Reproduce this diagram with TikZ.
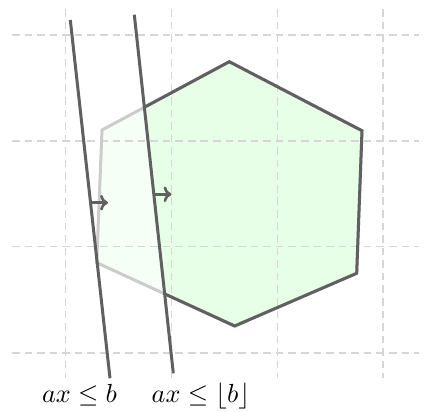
\documentclass[tikz,border=0pt]{standalone}
\usetikzlibrary{arrows.meta}
\definecolor{edgedark}{HTML}{606060}
\definecolor{edgelight}{HTML}{CCCCCC}
\definecolor{gridc}{HTML}{D6D6D6}
\definecolor{fillgreen}{HTML}{E6FFE6}
\definecolor{filllight}{HTML}{F5FFF5}
\tikzset{
  gridline/.style={draw=gridc, line width=0.75pt, dash pattern=on 2.9pt off 1.9pt},
  cutline/.style={draw=edgedark, line width=1.15pt},
  dirarrow/.style={draw=edgedark, line width=1.0pt, -{To[length=3pt,width=6pt]}},
  lbl/.style={inner sep=0pt, anchor=base}
}
\begin{document}
\begin{tikzpicture}[x=0.382pt, y=-0.382pt]
\useasboundingbox (0,0) rectangle (427,412);
% hexagon vertices
\coordinate (h1) at (229.3,61.7);
\coordinate (h2) at (362,130.7);
\coordinate (h3) at (356.7,273.3);
\coordinate (h4) at (234.7,326);
\coordinate (h5) at (96.7,262.7);
\coordinate (h6) at (102,130);
% fills
\fill[filllight] (h1) -- (h2) -- (h3) -- (h4) -- (h5) -- (h6) -- cycle;
\begin{scope}
  \clip (132.7,0) -- (177.5,412) -- (427,412) -- (427,0) -- cycle;
  \fill[fillgreen] (h1) -- (h2) -- (h3) -- (h4) -- (h5) -- (h6) -- cycle;
\end{scope}
% grid
\foreach \gx in {65.5,171.5,277.5,383} \draw[gridline] (\gx,9) -- (\gx,378);
\foreach \gy in {35,141,246.5,353} \draw[gridline] (12,\gy) -- (419,\gy);
% outlines
\draw[edgelight, line width=1.15pt, line join=miter] (h1) -- (h2) -- (h3) -- (h4) -- (h5) -- (h6) -- cycle;
\begin{scope}
  \clip (132.7,0) -- (177.5,412) -- (427,412) -- (427,0) -- cycle;
  \draw[edgedark, line width=1.15pt, line join=miter] (h1) -- (h2) -- (h3) -- (h4) -- (h5) -- (h6) -- cycle;
\end{scope}
% cut lines
\coordinate (a1) at (70.3,20);
\coordinate (a2) at (110,378.3);
\coordinate (b1) at (134.3,14.7);
\coordinate (b2) at (173.3,373.3);
\draw[cutline] (a1) -- (a2);
\draw[cutline] (b1) -- (b2);
% direction arrows
\coordinate (p1) at (91.6,202.7);
\coordinate (q1) at (108,202.7);
\coordinate (p2) at (154.9,194.3);
\coordinate (q2) at (171.5,194.3);
\draw[dirarrow] (p1) -- (q1);
\draw[dirarrow] (p2) -- (q2);
% labels
\node[lbl] (la) at (79.5,402.7) {$ax \le b$};
\node[lbl] (lb) at (200.8,402.7) {$ax \le \lfloor b \rfloor$};
\end{tikzpicture}
\end{document}
